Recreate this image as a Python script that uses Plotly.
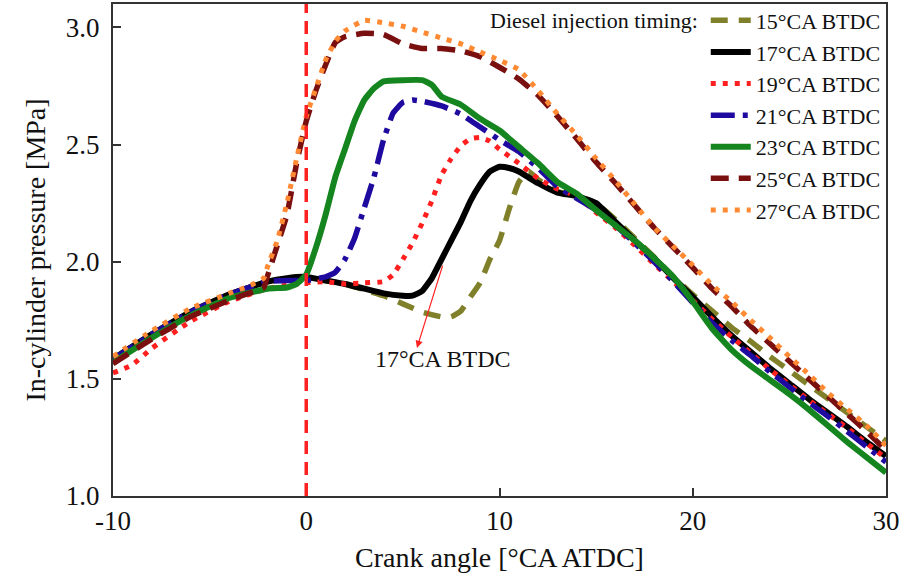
import plotly.graph_objects as go

# ---- data ----
labels = ["15°CA BTDC", "17°CA BTDC", "19°CA BTDC", "21°CA BTDC",
          "23°CA BTDC", "25°CA BTDC", "27°CA BTDC"]

x15 = [-10, -8, -6, -4, -2, -1, 0, 1, 2, 3, 4, 5, 6, 7, 7.5, 8, 8.5, 9, 9.5, 10, 10.5, 11, 11.5, 12,
       13, 14, 15, 16, 17, 18, 19, 20, 21, 22, 23, 24, 25, 26, 27, 28, 29, 30]
y15 = [1.585, 1.69, 1.785, 1.86, 1.915, 1.93, 1.935, 1.92, 1.905, 1.88, 1.855, 1.82, 1.785, 1.765, 1.765,
       1.79, 1.85, 1.91, 2.01, 2.09, 2.225, 2.34, 2.385, 2.35, 2.30, 2.28, 2.25, 2.18, 2.10, 2.02, 1.935,
       1.86, 1.79, 1.72, 1.66, 1.595, 1.535, 1.475, 1.415, 1.355, 1.295, 1.235]

x17 = [-10, -8, -6, -4, -2, -1, 0, 1, 2, 3, 4, 5, 5.5, 6, 6.5, 7, 7.5, 8, 8.5, 9, 9.5, 10, 10.5, 11,
       11.5, 12, 13, 14, 15, 16, 17, 18, 19, 20, 21, 22, 23, 24, 25, 26, 27, 28, 29, 30]
y17 = [1.585, 1.69, 1.785, 1.86, 1.915, 1.93, 1.935, 1.92, 1.905, 1.885, 1.865, 1.855, 1.855, 1.875,
       1.93, 2.01, 2.09, 2.17, 2.26, 2.33, 2.385, 2.405, 2.40, 2.385, 2.36, 2.335, 2.295, 2.28, 2.25,
       2.17, 2.09, 2.015, 1.93, 1.85, 1.765, 1.685, 1.615, 1.545, 1.48, 1.415, 1.355, 1.295, 1.23, 1.17]

x19 = [-10, -9, -8, -6, -4, -2, -1, 0, 1, 2, 3, 4, 4.5, 5, 5.5, 6, 6.5, 7, 7.5, 8, 8.5, 9, 9.5, 10,
       10.5, 11, 12, 13, 14, 15, 16, 17, 18, 19, 20, 21, 22, 23, 24, 25, 26, 27, 28, 29, 30]
y19 = [1.525, 1.56, 1.63, 1.745, 1.83, 1.885, 1.90, 1.91, 1.915, 1.905, 1.91, 1.915, 1.945, 2.01, 2.08,
       2.165, 2.26, 2.37, 2.44, 2.495, 2.525, 2.53, 2.515, 2.48, 2.45, 2.42, 2.355, 2.31, 2.28, 2.21,
       2.145, 2.07, 1.99, 1.915, 1.835, 1.755, 1.68, 1.61, 1.54, 1.475, 1.41, 1.35, 1.29, 1.225, 1.16]

x21 = [-10, -8, -6, -4, -2, -1, 0, 1, 1.5, 2, 2.5, 3, 3.5, 4, 4.5, 5, 5.5, 6, 7, 8, 9, 10, 11, 12,
       13, 14, 15, 16, 17, 18, 19, 20, 21, 22, 23, 24, 25, 26, 27, 28, 29, 30]
y21 = [1.585, 1.69, 1.785, 1.86, 1.915, 1.92, 1.92, 1.935, 1.955, 2.01, 2.10, 2.23, 2.36, 2.52, 2.635,
       2.68, 2.69, 2.685, 2.665, 2.63, 2.575, 2.52, 2.47, 2.40, 2.32, 2.27, 2.22, 2.155, 2.08, 2.0,
       1.915, 1.825, 1.74, 1.665, 1.60, 1.53, 1.465, 1.40, 1.34, 1.275, 1.21, 1.145]

x23 = [-10, -8, -6, -4, -2, -1, -0.5, 0, 0.5, 1, 1.5, 2, 2.5, 3, 3.5, 4, 5, 6, 6.5, 7, 8, 9, 10, 11,
       12, 13, 14, 15, 16, 17, 18, 19, 20, 21, 22, 23, 24, 25, 26, 27, 28, 29, 30]
y23 = [1.57, 1.675, 1.77, 1.845, 1.885, 1.89, 1.905, 1.945, 2.06, 2.20, 2.36, 2.48, 2.60, 2.69, 2.74,
       2.77, 2.775, 2.775, 2.755, 2.705, 2.67, 2.61, 2.56, 2.49, 2.42, 2.34, 2.29, 2.22, 2.155, 2.09,
       2.015, 1.935, 1.83, 1.715, 1.625, 1.555, 1.495, 1.435, 1.37, 1.30, 1.23, 1.165, 1.10]

x25 = [-10, -8, -6, -4, -3, -2.2, -2, -1.5, -1, -0.5, 0, 0.5, 1, 1.5, 2, 3, 4, 5, 6, 7, 8, 9, 10, 11,
       12, 13, 14, 15, 16, 17, 18, 19, 20, 21, 22, 23, 24, 25, 26, 27, 28, 29, 30]
y25 = [1.565, 1.67, 1.765, 1.835, 1.865, 1.89, 1.94, 2.07, 2.20, 2.42, 2.60, 2.73, 2.84, 2.935, 2.96,
       2.975, 2.97, 2.93, 2.91, 2.91, 2.90, 2.875, 2.83, 2.78, 2.71, 2.62, 2.525, 2.425, 2.335, 2.24,
       2.145, 2.06, 1.975, 1.885, 1.81, 1.725, 1.65, 1.575, 1.50, 1.425, 1.35, 1.275, 1.195]

x27 = [-10, -8, -6, -4, -3, -2.2, -2, -1.5, -1, -0.5, 0, 0.5, 1, 1.5, 2, 3, 4, 5, 6, 7, 8, 9, 10, 11,
       12, 13, 14, 15, 16, 17, 18, 19, 20, 21, 22, 23, 24, 25, 26, 27, 28, 29, 30]
y27 = [1.595, 1.705, 1.80, 1.865, 1.895, 1.93, 1.98, 2.09, 2.25, 2.44, 2.62, 2.74, 2.86, 2.94, 2.985,
       3.03, 3.02, 3.005, 2.98, 2.955, 2.93, 2.895, 2.86, 2.82, 2.73, 2.63, 2.54, 2.44, 2.345, 2.245,
       2.145, 2.065, 1.985, 1.90, 1.83, 1.75, 1.675, 1.595, 1.52, 1.44, 1.37, 1.30, 1.215]

xs = [x15, x17, x19, x21, x23, x25, x27]
ys = [y15, y17, y19, y21, y23, y25, y27]

x_tickvals = [-10, 0, 10, 20, 30]
x_ticktext = ["-10", "0", "10", "20", "30"]

colors = ["#80802a", "#000000", "#ff1f1f", "#1e0a9e", "#15851f", "#7a0f0f", "#ff8a33"]
dashes = ["17px,11px", "solid", "5px,7px", "24px,8px,5px,8px", "solid", "18px,10px", "5px,7px"]
widths = [5.5, 6, 5, 5.5, 6, 5.5, 5]

annot_text = "17°CA BTDC"
annot_xy = (7.08, 1.585)
arrow_head = (5.73, 1.632)
arrow_tail = (7.08, 1.99)

FONT = "Liberation Serif"

fig = go.Figure()
for lab, x, y, c, d, w in zip(labels, xs, ys, colors, dashes, widths):
    fig.add_trace(go.Scatter(x=x, y=y, mode="lines", name=lab,
                             line=dict(color=c, dash=d, width=w, shape="spline", smoothing=0.4)))

# vertical TDC line
fig.add_shape(type="line", xref="x", yref="y", x0=0, x1=0, y0=1.0, y1=3.1,
              line=dict(color="#ff2020", width=3.5, dash="13px,8px"), layer="above")

# arrow + label
fig.add_annotation(x=arrow_head[0], y=arrow_head[1], ax=arrow_tail[0], ay=arrow_tail[1],
                   xref="x", yref="y", axref="x", ayref="y", text="", showarrow=True,
                   arrowhead=2, arrowsize=1.2, arrowwidth=1.2, arrowcolor="#ff2020")
fig.add_annotation(x=annot_xy[0], y=annot_xy[1], xref="x", yref="y", text=annot_text,
                   showarrow=False, font=dict(family=FONT, size=24, color="#111"))

axis_common = dict(showline=True, linecolor="#333", linewidth=2, mirror=True,
                   ticks="inside", ticklen=8, tickwidth=2, tickcolor="#333",
                   showgrid=False, zeroline=False,
                   tickfont=dict(family=FONT, size=27, color="#111"))

fig.update_xaxes(range=[-10, 30], tickvals=x_tickvals, ticktext=x_ticktext,
                 title=dict(text="Crank angle [°CA ATDC]", font=dict(family=FONT, size=28, color="#111"),
                            standoff=12),
                 ticklabelstandoff=0, **axis_common)
fig.update_yaxes(range=[1.0, 3.1], dtick=0.5, tick0=1.0, tickformat=".1f",
                 title=dict(text="In-cylinder pressure [MPa]", font=dict(family=FONT, size=28, color="#111"),
                            standoff=12),
                 ticklabelstandoff=6, **axis_common)

fig.update_layout(
    width=915, height=579,
    margin=dict(l=113, r=29, t=4, b=83, autoexpand=False),
    plot_bgcolor="white", paper_bgcolor="white",
    font=dict(family=FONT, size=22, color="#111"),
    legend=dict(x=1.0, xanchor="right", y=1.009, yanchor="top",
                bgcolor="rgba(0,0,0,0)", borderwidth=0,
                title=dict(text="Diesel injection timing:", side="left",
                           font=dict(family=FONT, size=22, color="#111")),
                font=dict(family=FONT, size=22, color="#111"),
                tracegroupgap=0, itemwidth=40),
)

fig.write_html("out.html")
